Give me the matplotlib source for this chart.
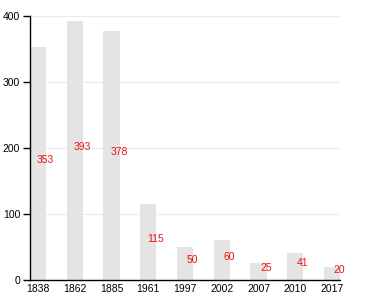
import matplotlib
matplotlib.use("Agg")
import matplotlib.pyplot as plt

years = ["1838", "1862", "1885", "1961", "1997", "2002", "2007", "2010", "2017"]
values = [353, 393, 378, 115, 50, 60, 25, 41, 20]
yticks = [0, 100, 200, 300, 400]

plt.rcParams['font.family'] = ['Liberation Sans', 'DejaVu Sans']
fig = plt.figure(figsize=(3.8, 3.0), dpi=100)
ax = fig.add_axes([0.079, 0.0667, 0.816, 0.88])

x = list(range(len(years)))
ax.bar(x, values, width=0.44, color='#e4e4e4', zorder=2)
for i, v in zip(x, values):
    ax.text(i + 0.2, v / 2 + 5, str(v), color='#ee1111', fontsize=7.5,
            ha='center', va='center', zorder=3)

ax.set_xlim(-0.22, len(years) - 1 + 0.22)
ax.set_ylim(0, 400)
ax.set_yticks(yticks)
ax.set_xticks(x)
ax.set_xticklabels(years)
ax.yaxis.grid(True, color='#ebebeb', linewidth=0.8, zorder=0)
ax.set_axisbelow(True)
for s in ['top', 'right']:
    ax.spines[s].set_visible(False)
ax.spines['left'].set_linewidth(1.0)
ax.spines['bottom'].set_linewidth(1.0)
ax.tick_params(axis='y', length=5, width=1, labelsize=7.5, pad=2)
ax.tick_params(axis='x', length=0, labelsize=7.5, pad=3)

fig.savefig("out.png", dpi=100)
